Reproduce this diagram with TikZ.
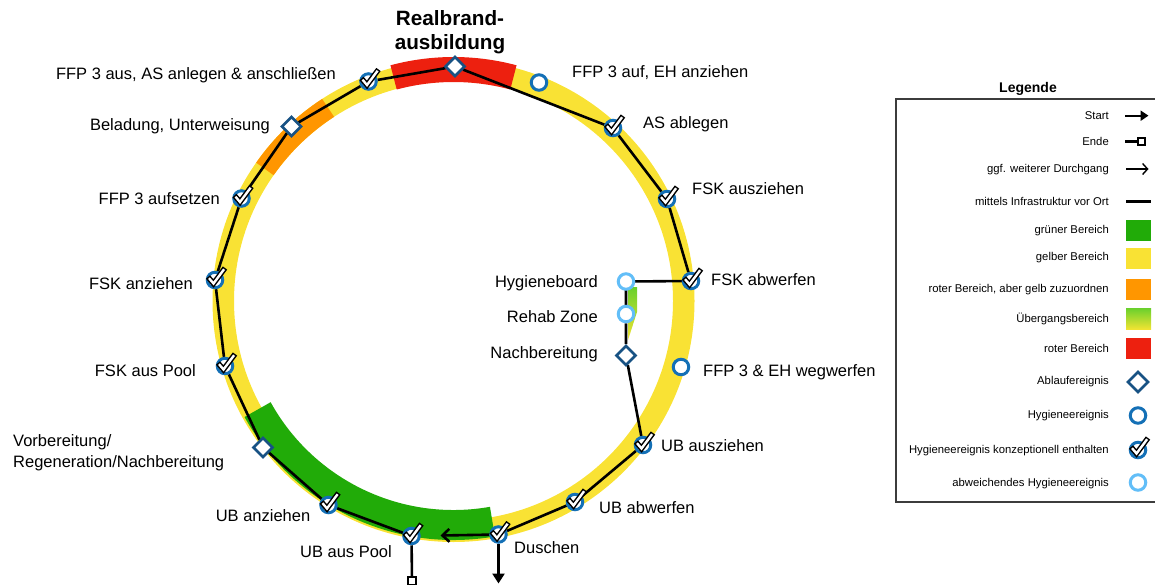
\documentclass[tikz,border=0pt]{standalone}
\usepackage{fontspec}
\setmainfont{Liberation Sans}
\usetikzlibrary{shapes.geometric,arrows.meta}

\definecolor{ringyellow}{RGB}{249,226,52}
\definecolor{ringgreen}{RGB}{33,171,8}
\definecolor{ringorange}{RGB}{255,150,0}
\definecolor{ringred}{RGB}{237,32,15}
\definecolor{transgreen}{RGB}{105,208,45}
\definecolor{transyellow}{RGB}{240,228,50}
\definecolor{ablblue}{RGB}{24,82,132}
\definecolor{hygblue}{RGB}{20,112,182}
\definecolor{altblue}{RGB}{98,190,248}
\definecolor{framegray}{RGB}{60,60,60}

\pgfdeclarelayer{ring}
\pgfdeclarelayer{lines}
\pgfsetlayers{ring,lines,main}

\tikzset{
  tick/.pic={
    \draw[black, line width=5.4pt, line join=miter, miter limit=10]
      (-7,-3) -- (-1.5,3.5) -- (10,-12);
    \draw[white, line width=2.4pt, shorten <=1.5pt, shorten >=1.5pt]
      (-7,-3) -- (-1.5,3.5) -- (10,-12);
  }
}

\begin{document}
\begin{tikzpicture}[x=1pt,y=-1pt,
  lbl/.style={font=\fontsize{16.5}{20}\selectfont, inner sep=0pt, text height=11.8pt, text depth=0pt},
  leg/.style={font=\fontsize{11.3}{13}\selectfont, inner sep=0pt, text height=8.1pt, text depth=0pt, anchor=east},
  hyg/.style={circle, draw=hygblue, line width=3pt, fill=white, minimum size=15.5pt, inner sep=0pt},
  alt/.style={hyg, draw=altblue},
  ablauf/.style={diamond, draw=ablblue, line width=2.6pt, fill=white, minimum width=20pt, minimum height=20pt, inner sep=0pt},
  flow/.style={line width=2.6pt, black},
  swatch/.style={minimum width=25pt, minimum height=21pt, inner sep=0pt},
  endbox/.style={rectangle, draw=black, line width=2.3pt, fill=white, minimum size=7.5pt, inner sep=0pt}
]
\useasboundingbox (0,0) rectangle (1155,584);

% ---- zones of the ring ----
\coordinate (O) at (453.5,301);
\begin{pgfonlayer}{ring}
  \draw[ringyellow, line width=21.5pt] (O) circle[radius=230.25];
  \draw[ringred, line width=25pt] (O) ++(-105:231.5) arc[start angle=-105, end angle=-75, radius=231.5];
  \draw[ringorange, line width=21.5pt] (O) ++(-145:230.25) arc[start angle=-145, end angle=-123, radius=230.25];
  \draw[ringgreen, line width=30pt] (O) ++(80:224) arc[start angle=80, end angle=151, radius=224];
  \shade[top color=transgreen, bottom color=transyellow]
    (628,287) -- (637,287) -- (637,312) -- (628,340) -- cycle;
\end{pgfonlayer}

% ---- title ----
\node[font=\bfseries\fontsize{20.7}{24}\selectfont, align=center, inner sep=0pt] (title) at (450,32) {Realbrand-\\ausbildung};

% ---- events on the ring ----
\node[ablauf] (rb) at (455,66.5) {};
\node[hyg] (ffpauf) at (539,82.5) {};
\node[hyg] (asab) at (613,128) {};
\node[hyg] (fskaus) at (667,199) {};
\node[hyg] (fskab) at (691,281) {};
\node[hyg] (ffpweg) at (681,367) {};
\node[hyg] (ubaus) at (643,445) {};
\node[hyg] (ubab) at (575,502) {};
\node[hyg] (dusch) at (498.5,534.5) {};
\node[hyg] (ubpool) at (411.5,536) {};
\node[hyg] (ubanz) at (328.5,505) {};
\node[ablauf] (vorb) at (263,447.5) {};
\node[hyg] (fskpool) at (225,366) {};
\node[hyg] (fskanz) at (215,280) {};
\node[hyg] (ffpsetz) at (241.5,198.5) {};
\node[ablauf] (belad) at (291.5,126.5) {};
\node[hyg] (ffpaus) at (368.5,81.5) {};

% ---- inner branch ----
\node[alt] (hboard) at (626,281.5) {};
\node[alt] (rehab) at (626,314) {};
\node[ablauf] (nachb) at (626,355.5) {};

\node[endbox] (endsq) at (412,581) {};
\coordinate (startend) at (498.5,583.5);
\coordinate (ggfend) at (440.5,535.5);

% ---- ticks for events covered by the concept ----
\foreach \n in {asab,fskaus,fskab,ubaus,ubab,dusch,ubpool,ubanz,fskpool,fskanz,ffpsetz,ffpaus}
  \pic at (\n) {tick};

% ---- connectors ----
\begin{pgfonlayer}{lines}
  \draw[flow] (rb) -- (asab) -- (fskaus) -- (fskab) -- (hboard.center) -- (rehab) -- (nachb) -- (ubaus) -- (ubab) -- (dusch);
  \draw[flow] (ubpool) -- (ubanz) -- (vorb) -- (fskpool) -- (fskanz) -- (ffpsetz) -- (belad) -- (ffpaus) -- (rb);
  \draw[flow, -{Straight Barb[length=7pt, width=13pt]}] (dusch) -- (ggfend);
  \draw[flow, -{Triangle[length=10pt, width=12pt]}] (dusch) -- (startend);
  \draw[flow] (ubpool) -- (endsq);
\end{pgfonlayer}

% ---- labels ----
\node[lbl, anchor=west] (l-ffpauf) at (572,72) {FFP 3 auf, EH anziehen};
\node[lbl, anchor=west] (l-asab) at (643,123) {AS ablegen};
\node[lbl, anchor=west] (l-fskaus) at (692,189) {FSK ausziehen};
\node[lbl, anchor=west] (l-fskab) at (711,279.5) {FSK abwerfen};
\node[lbl, anchor=west] (l-ffpweg) at (703,371) {FFP 3 \& EH wegwerfen};
\node[lbl, anchor=west] (l-ubaus) at (661,445.5) {UB ausziehen};
\node[lbl, anchor=west] (l-ubab) at (599,508) {UB abwerfen};
\node[lbl, anchor=west] (l-dusch) at (514,548) {Duschen};
\node[lbl, anchor=east] (l-ubpool) at (392,551.5) {UB aus Pool};
\node[lbl, anchor=east] (l-ubanz) at (310.5,516) {UB anziehen};
\node[lbl, anchor=west] (l-vorb1) at (13,441) {Vorbereitung/};
\node[lbl, anchor=west] (l-vorb2) at (13,462) {Regeneration/Nachbereitung};
\node[lbl, anchor=east] (l-fskpool) at (196,371) {FSK aus Pool};
\node[lbl, anchor=east] (l-fskanz) at (193,284) {FSK anziehen};
\node[lbl, anchor=east] (l-ffpsetz) at (220,198.5) {FFP 3 aufsetzen};
\node[lbl, anchor=east] (l-belad) at (270,125) {Beladung, Unterweisung};
\node[lbl, anchor=east] (l-ffpaus) at (336,73.5) {FFP 3 aus, AS anlegen \& anschließen};
\node[lbl, anchor=east] (l-hboard) at (598,281.5) {Hygieneboard};
\node[lbl, anchor=east] (l-rehab) at (598,316.5) {Rehab Zone};
\node[lbl, anchor=east] (l-nachb) at (598,352.5) {Nachbereitung};

% ---- legend ----
\node[font=\bfseries\fontsize{14}{16}\selectfont, inner sep=0pt] (legtitle) at (1028,89) {Legende};
\draw[framegray, line width=1.2pt] (896,99) rectangle (1165,502);

\node[leg] (t-start) at (1109,115.7) {Start};
\node[leg] (t-ende) at (1109,141.7) {Ende};
\node[leg] (t-ggf) at (1109,168) {ggf. weiterer Durchgang};
\node[leg] (t-inf) at (1109,201) {mittels Infrastruktur vor Ort};
\node[leg] (t-gruen) at (1109,229) {grüner Bereich};
\node[leg] (t-gelb) at (1109,256) {gelber Bereich};
\node[leg] (t-orange) at (1109,288) {roter Bereich, aber gelb zuzuordnen};
\node[leg] (t-trans) at (1109,318) {Übergangsbereich};
\node[leg] (t-rot) at (1109,348) {roter Bereich};
\node[leg] (t-abl) at (1109,380.5) {Ablaufereignis};
\node[leg] (t-hyg) at (1109,414) {Hygieneereignis};
\node[leg] (t-konz) at (1109,449) {Hygieneereignis konzeptionell enthalten};
\node[leg] (t-abw) at (1109,482) {abweichendes Hygieneereignis};

\coordinate (s-start-a) at (1125,115.7);
\coordinate (s-start-b) at (1148.5,115.7);
\draw[line width=2.2pt, -{Triangle[length=8pt, width=10pt]}] (s-start-a) -- (s-start-b);
\node[endbox, minimum size=6.5pt, line width=2pt] (s-ende-box) at (1141.5,141.5) {};
\coordinate (s-ende-a) at (1125,141.5);
\draw[line width=2.2pt] (s-ende-a) -- (s-ende-box);
\coordinate (s-ggf-a) at (1126,169);
\coordinate (s-ggf-b) at (1148.5,169);
\draw[line width=1.4pt, -{Straight Barb[length=5pt, width=11pt]}] (s-ggf-a) -- (s-ggf-b);
\coordinate (s-inf-a) at (1126,201.5);
\coordinate (s-inf-b) at (1151,201.5);
\draw[line width=3pt] (s-inf-a) -- (s-inf-b);

\node[swatch, fill=ringgreen] (s-gruen) at (1138.5,230.3) {};
\node[swatch, fill=ringyellow] (s-gelb) at (1138.5,258.8) {};
\node[swatch, fill=ringorange] (s-orange) at (1138.5,289.5) {};
\node[swatch, top color=transgreen, bottom color=transyellow] (s-trans) at (1138.5,318.5) {};
\node[swatch, fill=ringred] (s-rot) at (1138.5,348.8) {};
\node[ablauf, minimum width=21pt, minimum height=21pt] (s-abl) at (1138,382) {};
\node[hyg] (s-hyg) at (1138,415.5) {};
\node[hyg] (s-konz) at (1138,450) {};
\pic at (s-konz) {tick};
\node[alt] (s-abw) at (1138,482.5) {};
\end{tikzpicture}
\end{document}
